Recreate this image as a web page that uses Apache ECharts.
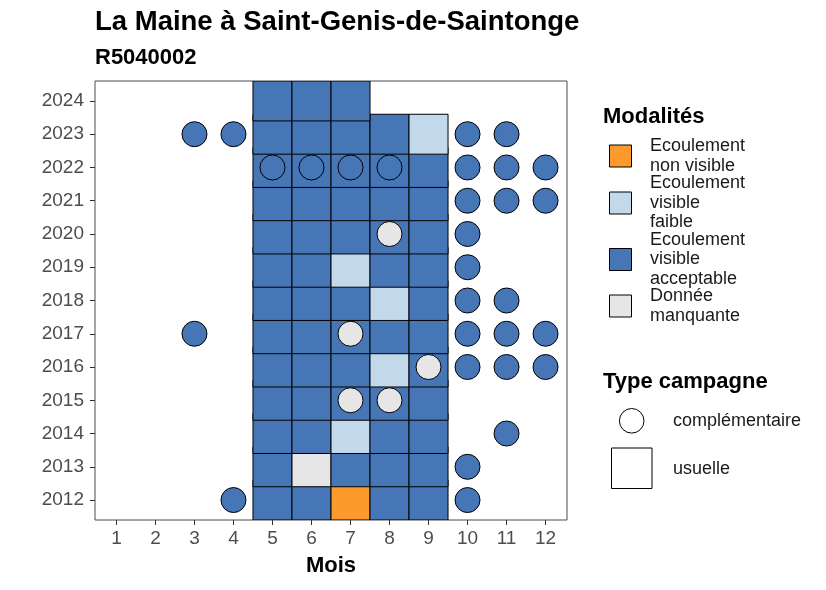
<!DOCTYPE html>
<html>
<head>
<meta charset="utf-8">
<script src="https://cdn.jsdelivr.net/npm/echarts@6/dist/echarts.min.js"></script>
<style>html,body{margin:0;padding:0;background:#fff}#c{width:826px;height:590px}</style>
</head>
<body>
<div id="c"></div>
<script>
// ---- data ----
const months = [1,2,3,4,5,6,7,8,9,10,11,12];
const years = [2012,2013,2014,2015,2016,2017,2018,2019,2020,2021,2022,2023,2024];
const modaliteCodes = ['N','F','A','M'];
const modaliteLabels = ['Ecoulement\nnon visible','Ecoulement\nvisible\nfaible','Ecoulement\nvisible\nacceptable','Donnée\nmanquante'];
const modaliteColors = ['#FD9A2E','#C1D9EB','#4676B5','#E6E6E6'];
const usuelleMonths = [5,6,7,8,9];
// [year, m5, m6, m7, m8, m9]
const usuelleRows = [
  [2012,'A','A','N','A','A'],
  [2013,'A','M','A','A','A'],
  [2014,'A','A','F','A','A'],
  [2015,'A','A','A','A','A'],
  [2016,'A','A','A','F','A'],
  [2017,'A','A','A','A','A'],
  [2018,'A','A','A','F','A'],
  [2019,'A','A','F','A','A'],
  [2020,'A','A','A','A','A'],
  [2021,'A','A','A','A','A'],
  [2022,'A','A','A','A','A'],
  [2023,'A','A','A','A','F'],
  [2024,'A','A','A',null,null]
];
// [month, year, code]
const complementaire = [
  [4,2012,'A'],[10,2012,'A'],
  [10,2013,'A'],
  [11,2014,'A'],
  [7,2015,'M'],[8,2015,'M'],
  [9,2016,'M'],[10,2016,'A'],[11,2016,'A'],[12,2016,'A'],
  [3,2017,'A'],[7,2017,'M'],[10,2017,'A'],[11,2017,'A'],[12,2017,'A'],
  [10,2018,'A'],[11,2018,'A'],
  [10,2019,'A'],
  [8,2020,'M'],[10,2020,'A'],
  [10,2021,'A'],[11,2021,'A'],[12,2021,'A'],
  [5,2022,'A'],[6,2022,'A'],[7,2022,'A'],[8,2022,'A'],[10,2022,'A'],[11,2022,'A'],[12,2022,'A'],
  [3,2023,'A'],[4,2023,'A'],[10,2023,'A'],[11,2023,'A']
];
const typeLabels = ['complémentaire','usuelle'];
const titleText = 'La Maine à Saint-Genis-de-Saintonge';
const subtitleText = 'R5040002';
const xTitle = 'Mois';

// ---- build ----
const FONT = 'Liberation Sans, Arial, sans-serif';
function colorOf(code){ return modaliteColors[modaliteCodes.indexOf(code)]; }
const tileData = [];
usuelleRows.forEach(r => {
  usuelleMonths.forEach((m, i) => {
    const c = r[i+1];
    if (c) tileData.push([m, r[0], modaliteCodes.indexOf(c)]);
  });
});
const circleData = complementaire.map(d => ({value:[d[0], d[1]], itemStyle:{color: colorOf(d[2])}}));

const chart = echarts.init(document.getElementById('c'), null, {renderer:'canvas'});

const legendGraphics = [];
legendGraphics.push({type:'text', left:603, top:106, style:{text:'Modalités', font:'bold 22px '+FONT, fill:'#000'}});
const legCenters = [156, 203, 259.5, 306];
modaliteLabels.forEach((lab, i) => {
  legendGraphics.push({type:'rect', shape:{x:609.5, y:legCenters[i]-11, width:22, height:22},
    style:{fill:modaliteColors[i], stroke:'#000', lineWidth:1}});
  legendGraphics.push({type:'text', x:650, y:legCenters[i],
    style:{text:lab, font:'18px '+FONT, fill:'#1a1a1a', verticalAlign:'middle', align:'left', lineHeight:19.5}});
});
legendGraphics.push({type:'text', left:603, top:371, style:{text:'Type campagne', font:'bold 22px '+FONT, fill:'#000'}});
legendGraphics.push({type:'circle', shape:{cx:631.7, cy:420.8, r:12.3}, style:{fill:'#fff', stroke:'#000', lineWidth:1}});
legendGraphics.push({type:'text', x:673, y:421.5, style:{text:typeLabels[0], font:'18px '+FONT, fill:'#1a1a1a', verticalAlign:'middle'}});
legendGraphics.push({type:'rect', shape:{x:611.5, y:448, width:40.5, height:40.5}, style:{fill:'#fff', stroke:'#000', lineWidth:1}});
legendGraphics.push({type:'text', x:673, y:469, style:{text:typeLabels[1], font:'18px '+FONT, fill:'#1a1a1a', verticalAlign:'middle'}});

chart.setOption({
  animation:false,
  backgroundColor:'#fff',
  grid:{left:95, right:259, top:81, bottom:70, show:true, borderColor:'#4d4d4d', borderWidth:1, backgroundColor:'transparent'},
  xAxis:{
    type:'value', min:0.45, max:12.55,
    axisLine:{show:false},
    splitLine:{show:false},
    axisTick:{show:true, length:5, customValues:months, lineStyle:{color:'#333'}},
    axisLabel:{customValues:months, margin:9, fontSize:19, fontFamily:FONT, color:'#4d4d4d', formatter:v => String(v)}
  },
  yAxis:{
    type:'value', min:2011.4, max:2024.6,
    axisLine:{show:false},
    splitLine:{show:false},
    axisTick:{show:true, length:5, customValues:years, lineStyle:{color:'#333'}},
    axisLabel:{customValues:years, margin:11, fontSize:19, fontFamily:FONT, color:'#4d4d4d', formatter:v => String(v)}
  },
  series:[
    {
      type:'custom', z:2, data:tileData, clip:true,
      renderItem:function(params, api){
        const x = api.value(0), y = api.value(1), k = api.value(2);
        const p0 = api.coord([x-0.5, y+0.6]);
        const p1 = api.coord([x+0.5, y-0.6]);
        return {type:'rect', shape:{x:p0[0], y:p0[1], width:p1[0]-p0[0], height:p1[1]-p0[1]},
          style:{fill:modaliteColors[k], stroke:'#000', lineWidth:1}};
      }
    },
    {
      type:'scatter', z:3, symbol:'circle', symbolSize:25, data:circleData,
      itemStyle:{borderColor:'#000', borderWidth:1, opacity:1}
    }
  ],
  graphic:[
    {type:'text', x:95, y:22.5, style:{text:titleText, font:'bold 27.5px '+FONT, fill:'#000', verticalAlign:'middle'}},
    {type:'text', x:95, y:58, style:{text:subtitleText, font:'bold 22px '+FONT, fill:'#000', verticalAlign:'middle'}},
    {type:'text', x:331, y:566, style:{text:xTitle, font:'bold 22px '+FONT, fill:'#000', verticalAlign:'middle', align:'center'}}
  ].concat(legendGraphics)
});
</script>
</body>
</html>
